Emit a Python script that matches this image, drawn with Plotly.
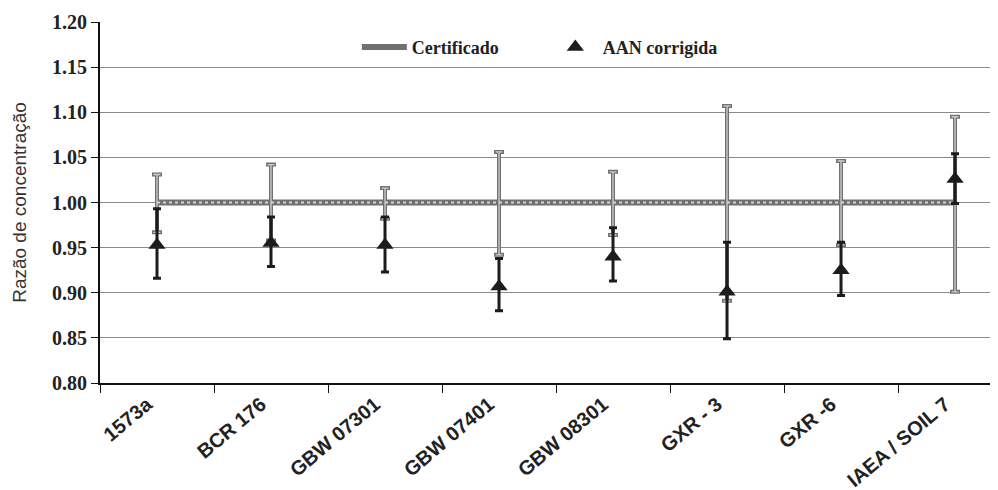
import plotly.graph_objects as go

categories = ["1573a", "BCR 176", "GBW 07301", "GBW 07401", "GBW 08301",
              "GXR - 3", "GXR -6", "IAEA / SOIL 7"]
cert_value = [1.00, 1.00, 1.00, 1.00, 1.00, 1.00, 1.00, 1.00]
cert_plus = [0.031, 0.042, 0.016, 0.056, 0.034, 0.107, 0.046, 0.095]
cert_minus = [0.033, 0.042, 0.018, 0.058, 0.036, 0.109, 0.047, 0.099]
aan_value = [0.953, 0.955, 0.953, 0.907, 0.940, 0.901, 0.925, 1.026]
aan_plus = [0.040, 0.029, 0.031, 0.031, 0.032, 0.055, 0.031, 0.028]
aan_minus = [0.037, 0.026, 0.030, 0.027, 0.027, 0.052, 0.028, 0.027]
y_ticks = [0.80, 0.85, 0.90, 0.95, 1.00, 1.05, 1.10, 1.15, 1.20]

fig = go.Figure()

# Certificado: dark outer layer
fig.add_trace(go.Scatter(
    x=categories, y=cert_value, mode="lines", name="Certificado",
    line=dict(color="#707070", width=6),
    error_y=dict(type="data", symmetric=False, array=cert_plus, arrayminus=cert_minus,
                 color="#707070", thickness=4, width=5),
))
# Certificado: light inner layer (hatched look)
fig.add_trace(go.Scatter(
    x=categories, y=cert_value, mode="lines", showlegend=False, hoverinfo="skip",
    line=dict(color="#d4d4d4", width=2, dash="dot"),
    error_y=dict(type="data", symmetric=False, array=cert_plus, arrayminus=cert_minus,
                 color="#cfcfcf", thickness=1.3, width=3.5),
))
# AAN corrigida
fig.add_trace(go.Scatter(
    x=categories, y=aan_value, mode="markers", name="AAN corrigida",
    marker=dict(symbol="triangle-up", size=15, color="#1c1c1c"),
    error_y=dict(type="data", symmetric=False, array=aan_plus, arrayminus=aan_minus,
                 color="#1c1c1c", thickness=3, width=4),
))

fig.update_layout(
    width=990, height=482,
    margin=dict(l=92, r=0, t=14, b=107),
    paper_bgcolor="white", plot_bgcolor="white",
    showlegend=True,
    legend=dict(orientation="h", x=0.286, y=0.93, xanchor="left", yanchor="middle",
                font=dict(family="Liberation Serif", size=18, color="#222", weight="bold"),
                bgcolor="rgba(255,255,255,0)", entrywidth=131, itemwidth=45),
)
fig.update_xaxes(
    type="category", range=[-0.5, 7.377], automargin=False,
    showline=True, linecolor="#111", linewidth=2,
    ticks="outside", ticklen=8, tickcolor="#111", tickwidth=1, tickson="boundaries",
    tickangle=-40, ticklabelshift=-10,
    tickfont=dict(family="Liberation Sans", size=20, color="#222", weight="bold"),
    showgrid=False,
)
fig.update_yaxes(
    range=[0.80, 1.20], tickvals=y_ticks, tickformat=".2f", automargin=False,
    showline=True, linecolor="#111", linewidth=2,
    ticks="outside", ticklen=7, tickcolor="#111", tickwidth=1,
    tickfont=dict(family="Liberation Serif", size=20, color="#222", weight="bold"),
    showgrid=True, gridcolor="#8a8a8a", gridwidth=1, zeroline=False,
    title=dict(text="Razão de concentração", standoff=20,
               font=dict(family="Liberation Sans", size=19, color="#333")),
)

fig.write_html("out.html")
